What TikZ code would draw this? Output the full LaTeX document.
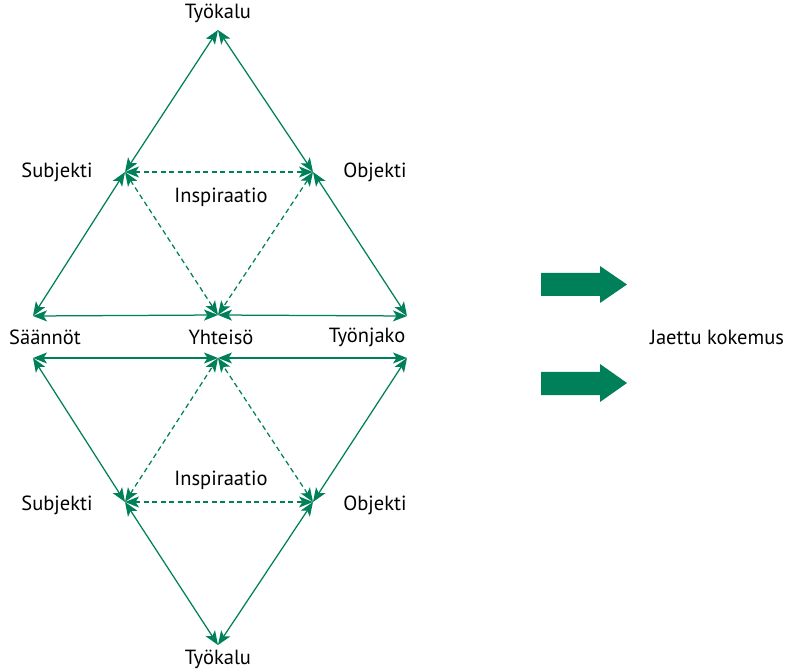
\documentclass[tikz,border=0pt]{standalone}
\usepackage{fontspec}
\setmainfont{PT Sans}
\usetikzlibrary{arrows.meta}
\definecolor{leaf}{RGB}{0,128,88}
\tikzset{
  link/.style={draw=leaf, line width=1.25pt, {Stealth[length=14pt,width=11pt,inset=3.5pt]}-{Stealth[length=14pt,width=11pt,inset=3.5pt]}},
  hint/.style={link, dash pattern=on 5pt off 3.5pt},
  lbl/.style={font=\fontsize{20.5}{22}\selectfont, text=black, inner sep=0pt},
  bigarrow/.style={fill=leaf}
}
\begin{document}
\begin{tikzpicture}[x=1pt,y=-1pt]
\useasboundingbox (0,0) rectangle (788,671);
% upper triangle
\coordinate (T1) at (218,30);
\coordinate (S1) at (125,172);
\coordinate (O1) at (313,172);
\coordinate (R1) at (33,316);
\coordinate (Y1) at (218,315);
\coordinate (J1) at (407,316);
% lower triangle
\coordinate (R2) at (33,358);
\coordinate (Y2) at (218,358);
\coordinate (J2) at (407,358);
\coordinate (S2) at (125,502);
\coordinate (O2) at (313,502);
\coordinate (T2) at (218,645);

\draw[link] (T1) -- (S1);
\draw[link] (T1) -- (O1);
\draw[link] (S1) -- (R1);
\draw[link] (O1) -- (J1);
\draw[link] (R1) -- (Y1);
\draw[link] (Y1) -- (J1);
\draw[hint] (S1) -- (O1);
\draw[hint] (S1) -- (Y1);
\draw[hint] (O1) -- (Y1);

\draw[link] (T2) -- (S2);
\draw[link] (T2) -- (O2);
\draw[link] (S2) -- (R2);
\draw[link] (O2) -- (J2);
\draw[link] (R2) -- (Y2);
\draw[link] (Y2) -- (J2);
\draw[hint] (S2) -- (O2);
\draw[hint] (S2) -- (Y2);
\draw[hint] (O2) -- (Y2);

% labels
\node[lbl] (t1) at (218,13) {Työkalu};
\node[lbl] (s1) at (57,172) {Subjekti};
\node[lbl] (o1) at (375,172) {Objekti};
\node[lbl] (i1) at (221,197) {Inspiraatio};
\node[lbl] (r) at (45,337) {Säännöt};
\node[lbl] (y) at (221,337) {Yhteisö};
\node[lbl] (j) at (367,337) {Työnjako};
\node[lbl] (i2) at (221,480) {Inspiraatio};
\node[lbl] (s2) at (57,505) {Subjekti};
\node[lbl] (o2) at (375,505) {Objekti};
\node[lbl] (t2) at (218,659) {Työkalu};
\node[lbl] (k) at (717,337) {Jaettu kokemus};

% block arrows
\fill[bigarrow] (541,273) -- (600,273) -- (600,266) -- (627,284.5) -- (600,303) -- (600,296) -- (541,296) -- cycle;
\fill[bigarrow] (541,372) -- (600,372) -- (600,364) -- (627,383) -- (600,402) -- (600,395) -- (541,395) -- cycle;
\end{tikzpicture}
\end{document}
